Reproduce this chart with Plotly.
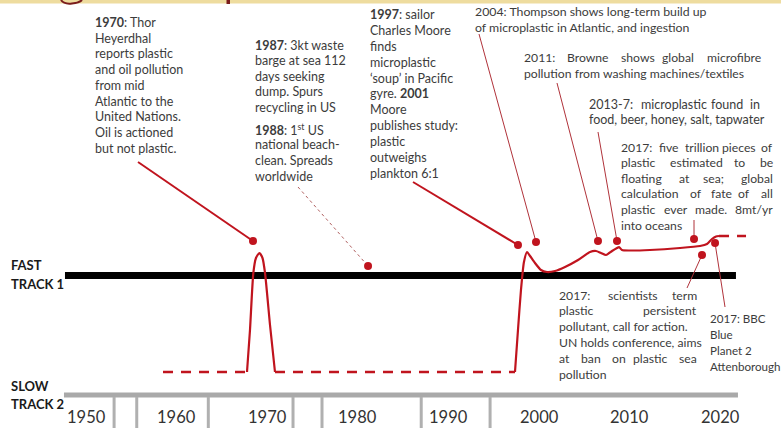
import plotly.graph_objects as go

W, H = 781, 428

# ---------------- data ----------------
decades = [1950, 1960, 1970, 1980, 1990, 2000, 2010, 2020]
decade_labels = ["1950", "1960", "1970", "1980", "1990", "2000", "2010", "2020"]
separator_years = [1953.1, 1955.6, 1963.5, 1972.85, 1976.05, 1987.0, 1994.6]

fast_track_years = [1947.68, 2021.74]
fast_track_level = 0.965
slow_track_years = [1947.57, 2021.96]
slow_track_level = -0.23

# slow-track (dashed) attention segments
dash1_years = [1958.5, 1967.77]
dash2_years = [1970.86, 1997.35]
dash_level = 0.0
dash3_years = [2019.87, 2022.85]
dash3_level = 1.36

# 1970 spike of attention
spike_years = [1967.77, 1968.10, 1968.47, 1968.76, 1969.13, 1969.48, 1969.76, 1970.31, 1970.86]
spike_levels = [0.0, 0.42, 0.99, 1.14, 1.19, 1.14, 0.99, 0.47, 0.0]

# rise of attention from late 1990s
main_years = [1997.35, 1997.68, 1998.01, 1998.34, 1998.68, 1999.01, 1999.56, 2000.22, 2000.88,
              2001.77, 2002.87, 2004.31, 2005.63, 2006.29, 2006.84, 2007.40, 2008.06, 2008.61,
              2008.83, 2009.16, 2010.04, 2012.25, 2015.56, 2017.77, 2018.54, 2019.09, 2019.54, 2019.87]
main_levels = [0.0, 0.42, 0.82, 1.10, 1.20, 1.16, 1.09, 1.02, 1.00,
               1.01, 1.05, 1.12, 1.20, 1.21, 1.19, 1.17, 1.21, 1.24,
               1.25, 1.22, 1.215, 1.22, 1.24, 1.26, 1.28, 1.33, 1.355, 1.36]

# event markers
event_years = [1968.43, 1981.13, 1997.68, 1999.67, 2006.51, 2008.61, 2017.11, 2017.99, 2019.43]
event_levels = [1.31, 1.06, 1.27, 1.30, 1.31, 1.31, 1.33, 1.17, 1.29]

# ---------------- scales (pixel <-> data) ----------------
X0_PX, PX_PER_YEAR = 86.0, 9.06
Y0_PX, PX_PER_LEVEL = 372.0, 100.0
x_range = [1950 - X0_PX / PX_PER_YEAR, 1950 + (W - X0_PX) / PX_PER_YEAR]
y_range = [(Y0_PX - H) / PX_PER_LEVEL, Y0_PX / PX_PER_LEVEL]


def px_to_year(px):
    return 1950 + (px - X0_PX) / PX_PER_YEAR


def py_to_level(py):
    return (Y0_PX - py) / PX_PER_LEVEL


def xp(px):
    return px / W


def yp(py):
    return 1 - py / H


RED = "#c0141e"
RED_THIN = "#b0323a"
TEXT = "#3c3c3c"
FONT = "Lato, 'Open Sans', sans-serif"

fig = go.Figure()

# tracks
fig.add_trace(go.Scatter(x=fast_track_years, y=[fast_track_level] * 2, mode="lines",
                         line=dict(color="#000000", width=7), hoverinfo="skip"))
fig.add_trace(go.Scatter(x=slow_track_years, y=[slow_track_level] * 2, mode="lines",
                         line=dict(color="#a9a9a9", width=5), hoverinfo="skip"))
sx, sy = [], []
for s in separator_years:
    sx += [s, s, None]
    sy += [slow_track_level - 0.02, y_range[0] - 0.1, None]
fig.add_trace(go.Scatter(x=sx, y=sy, mode="lines", line=dict(color="#b0b0b0", width=3),
                         hoverinfo="skip"))

# dashed segments
for yrs, lvl in [(dash1_years, dash_level), (dash2_years, dash_level), (dash3_years, dash3_level)]:
    fig.add_trace(go.Scatter(x=yrs, y=[lvl] * 2, mode="lines",
                             line=dict(color=RED, width=2.5, dash="10px,8px"), hoverinfo="skip"))

# attention curve
fig.add_trace(go.Scatter(x=spike_years, y=spike_levels, mode="lines",
                         line=dict(color=RED, width=2.2, shape="spline", smoothing=0.6),
                         hoverinfo="skip"))
fig.add_trace(go.Scatter(x=main_years, y=main_levels, mode="lines",
                         line=dict(color=RED, width=2.2, shape="spline", smoothing=0.6),
                         hoverinfo="skip"))

# leader lines: (text anchor px, event index, width, dash, color)
leaders = [
    ((138, 162), 0, 2.0, "solid", RED),
    ((298, 187), 1, 1.0, "dot", "#b06060"),
    ((413, 182), 2, 2.0, "solid", RED),
    ((479, 34), 3, 1.0, "solid", RED_THIN),
    ((557, 83), 4, 1.0, "solid", RED_THIN),
    ((598, 132), 5, 1.0, "solid", RED_THIN),
    ((694, 220), 6, 1.0, "solid", RED_THIN),
    ((687, 288), 7, 1.0, "solid", RED_THIN),
    ((725, 307), 8, 1.0, "solid", RED_THIN),
]
for (ax, ay), i, w, d, c in leaders:
    fig.add_trace(go.Scatter(x=[px_to_year(ax), event_years[i]], y=[py_to_level(ay), event_levels[i]],
                             mode="lines", line=dict(color=c, width=w, dash=d), hoverinfo="skip"))

fig.add_trace(go.Scatter(x=event_years, y=event_levels, mode="markers",
                         marker=dict(color=RED, size=8), hoverinfo="skip"))

# ---------------- text ----------------
annotations = []
CW = {' ': 0.193, 'a': 0.49, 'b': 0.55, 'c': 0.46, 'd': 0.55, 'e': 0.52, 'f': 0.33, 'g': 0.5,
      'h': 0.55, 'i': 0.23, 'j': 0.23, 'k': 0.5, 'l': 0.23, 'm': 0.83, 'n': 0.55, 'o': 0.55,
      'p': 0.55, 'q': 0.55, 'r': 0.36, 's': 0.42, 't': 0.35, 'u': 0.55, 'v': 0.5, 'w': 0.76,
      'x': 0.5, 'y': 0.5, 'z': 0.45, ',': 0.23, '.': 0.23, ':': 0.23, ';': 0.23, '/': 0.35,
      '-': 0.33}


def text_w(s, size):
    tot = 0
    for ch in s:
        if ch.isdigit():
            tot += 0.58
        elif ch.isupper():
            tot += 0.70
        else:
            tot += CW.get(ch, 0.5)
    return tot * size * 1.04


def add_text(txt, x, y, size=12.5, anchor="left", color=TEXT, bold=False):
    annotations.append(dict(text=("<b>%s</b>" % txt) if bold else txt,
                            xref="paper", yref="paper", x=xp(x), y=yp(y),
                            xanchor=anchor, yanchor="middle", showarrow=False,
                            font=dict(family=FONT, size=size, color=color)))


def add_block(lines, left, y0, step, right=None, justify=(), size=12.5):
    for k, ln in enumerate(lines):
        y = y0 + k * step
        words = ln.split()
        if right is not None and k in justify and len(words) > 1:
            ws = [text_w(wd, size) for wd in words]
            n = len(words)
            gap = (right - left - sum(ws)) / (n - 1)
            if gap < 0.3 * size:
                add_text(ln, left, y, size)
                continue
            half = (n + 1) // 2
            # left half anchored from the left edge
            pos = left
            for j in range(half):
                add_text(words[j], pos, y, size)
                pos += ws[j] + gap
            # right half anchored from the right edge
            pos = right
            for j in range(n - 1, half - 1, -1):
                add_text(words[j], pos, y, size, anchor="right")
                pos -= ws[j] + gap
        else:
            add_text(ln, left, y, size)


block_1970 = ["<b>1970</b>: Thor", "Heyerdhal", "reports plastic", "and oil pollution", "from mid",
              "Atlantic to the", "United Nations.", "Oil is actioned", "but not plastic."]
block_1987 = ["<b>1987</b>: 3kt waste", "barge at sea 112", "days seeking", "dump. Spurs",
              "recycling in US"]
block_1988 = ["<b>1988</b>: 1<sup>st</sup> US", "national beach-", "clean. Spreads", "worldwide"]
block_1997 = ["<b>1997</b>: sailor", "Charles Moore", "finds", "microplastic", "‘soup’ in Pacific",
              "gyre. <b>2001</b>", "Moore", "publishes study:", "plastic", "outweighs", "plankton 6:1"]
block_2004 = ["2004: Thompson shows long-term build up", "of microplastic in Atlantic, and ingestion"]
block_2011 = ["2011: Browne shows global microfibre", "pollution from washing machines/textiles"]
block_2013 = ["2013-7: microplastic found in", "food, beer, honey, salt, tapwater"]
block_2017a = ["2017: five trillion pieces of", "plastic estimated to be", "floating at sea; global",
               "calculation of fate of all", "plastic ever made. 8mt/yr", "into oceans"]
block_2017b = ["2017: scientists term", "plastic persistent", "pollutant, call for action.",
               "UN holds conference, aims", "at ban on plastic sea", "pollution"]
block_2017c = ["2017: BBC", "Blue", "Planet 2", "Attenborough"]

add_block(block_1970, 93, 22.3, 15.75)
add_block(block_1987, 253, 45, 15.5)
add_block(block_1988, 253, 129.3, 15.6)
add_block(block_1997, 368, 15, 15.8)
add_block(block_2004, 473, 11.5, 15.6, size=12.3)
add_block(block_2011, 522, 58, 15.2, right=763, justify=(0,), size=12.2)
add_block(block_2013, 587, 104, 15.2, right=762, justify=(0,))
add_block(block_2017a, 619, 147, 15.6, right=775, justify=(0, 1, 2, 3, 4), size=12.2)
add_block(block_2017b, 557, 295, 15.8, right=699, justify=(0, 1, 4), size=12.2)
add_block(block_2017c, 708, 318, 16, size=11.6)

# track labels
add_text("FAST", 9, 265, 13, color="#1a1a1a", bold=True)
add_text("TRACK 1", 9, 284, 13, color="#1a1a1a", bold=True)
add_text("SLOW", 9, 386, 13, color="#1a1a1a", bold=True)
add_text("TRACK 2", 9, 404, 13, color="#1a1a1a", bold=True)

# decade labels on the year scale
for yr, lab in zip(decades, decade_labels):
    annotations.append(dict(text=lab, xref="x", yref="paper", x=yr, y=yp(417),
                            xanchor="center", yanchor="middle", showarrow=False,
                            font=dict(family=FONT, size=16.5, color="#333333")))

# top decorative band (cropped banner)
shapes = [
    dict(type="rect", xref="paper", yref="paper", x0=0, x1=1, y0=yp(3.5), y1=1,
         fillcolor="#eedc9f", line=dict(width=0), layer="below"),
    dict(type="path", xref="paper", yref="paper",
         path="M %f,%f Q %f,%f %f,%f Q %f,%f %f,%f" % (xp(61), yp(0), xp(64), yp(4.5), xp(72), yp(3.5),
                                                  xp(79), yp(3), xp(82), yp(0)),
         line=dict(color="#7a1c1c", width=2)),
    dict(type="rect", xref="paper", yref="paper", x0=xp(226.5), x1=xp(230), y0=yp(4), y1=1,
         fillcolor="#7a1c1c", line=dict(width=0)),
]

fig.update_layout(
    width=W, height=H, margin=dict(l=0, r=0, t=0, b=0),
    paper_bgcolor="white", plot_bgcolor="white", showlegend=False,
    xaxis=dict(range=x_range, visible=False, fixedrange=True),
    yaxis=dict(range=y_range, visible=False, fixedrange=True),
    annotations=annotations, shapes=shapes, hovermode=False,
)

fig.write_html("out.html", config={"displayModeBar": False, "staticPlot": True},
               post_script="document.body.style.margin='0';document.body.style.padding='0';"
                           "document.body.style.overflow='hidden';")
